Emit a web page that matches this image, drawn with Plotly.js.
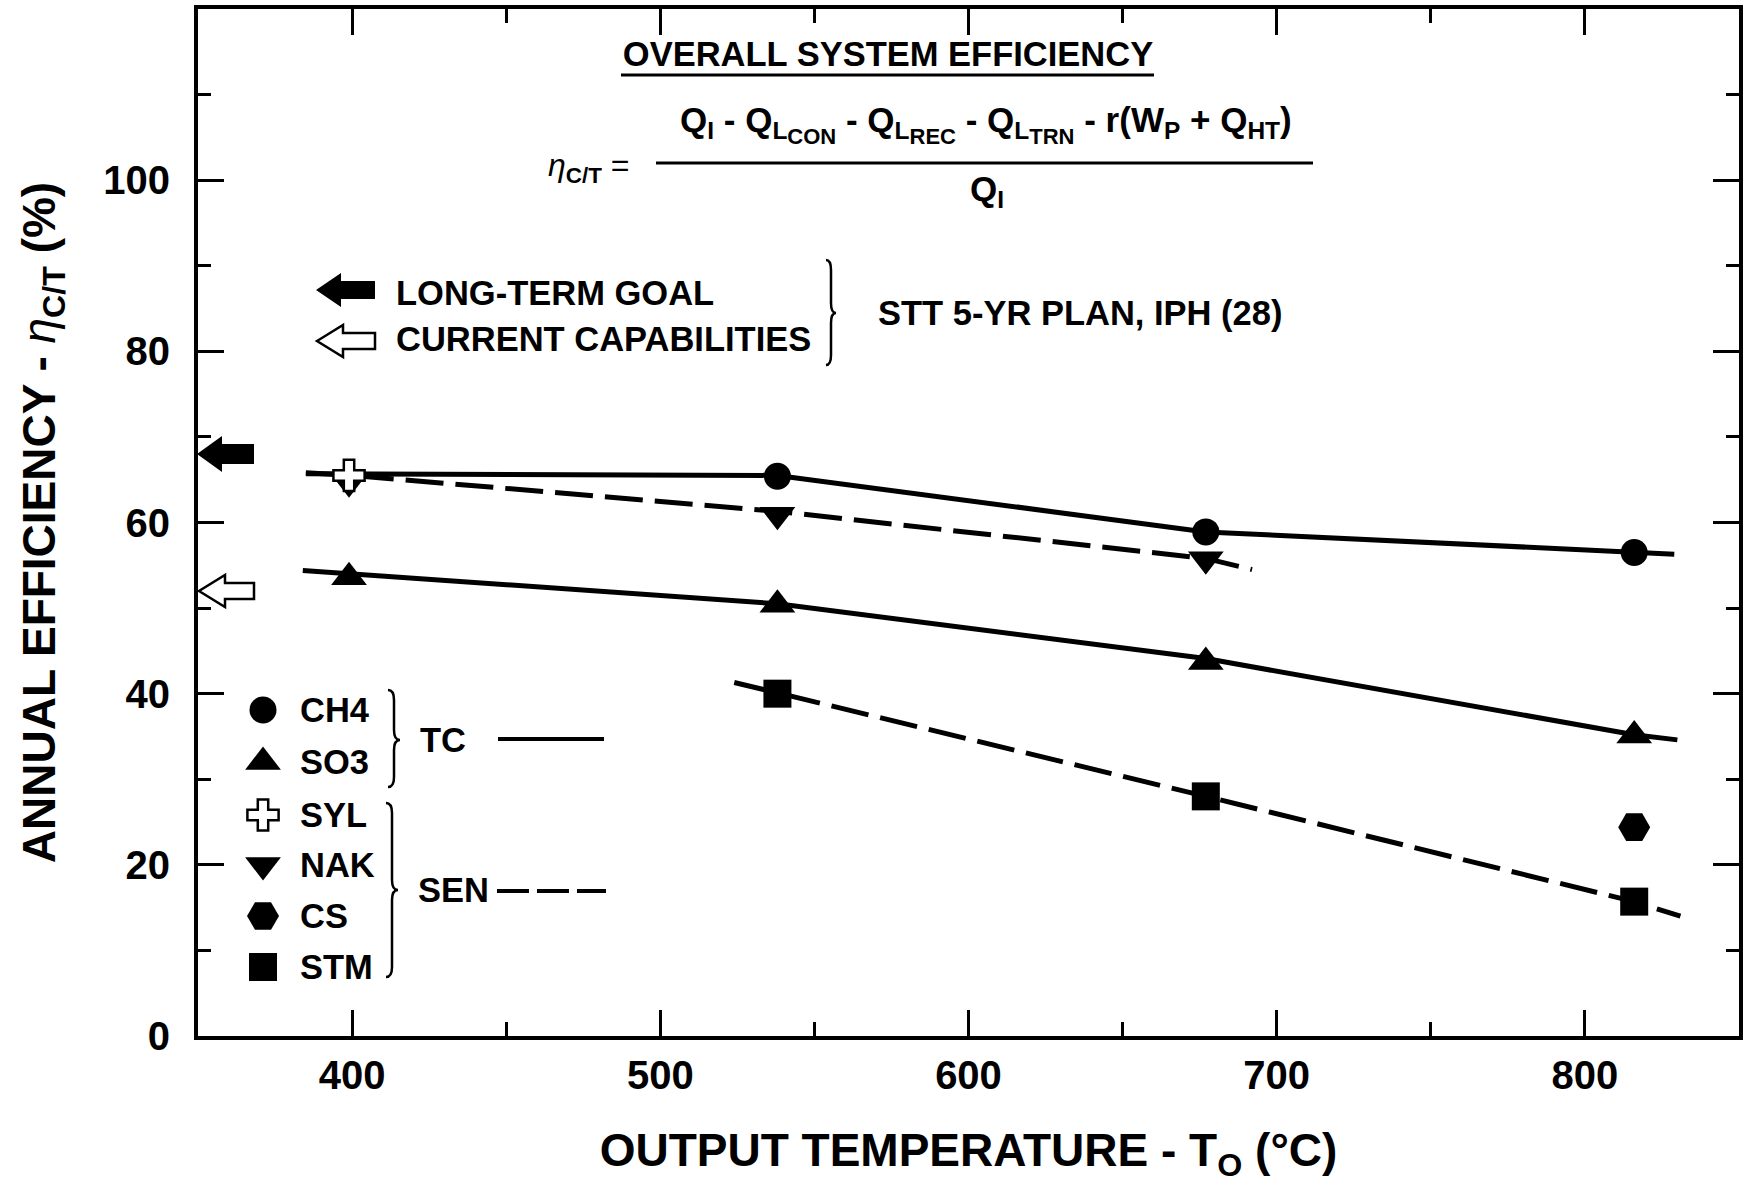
<!DOCTYPE html>
<html>
<head>
<meta charset="utf-8">
<script src="https://cdn.plot.ly/plotly-3.0.1.min.js"></script>
<style>html,body{margin:0;padding:0;background:#fff;}</style>
</head>
<body>
<div id="chart" style="width:1749px;height:1183px;"></div>
<script>
// ---------------- DATA ----------------
const seriesNames = ['CH4', 'SO3', 'SYL', 'NAK', 'CS', 'STM'];
const groupNames = ['TC', 'SEN'];

const ch4X = [538, 677, 816];
const ch4Y = [65.4, 58.9, 56.5];
const so3X = [399, 538, 677, 816];
const so3Y = [53.6, 50.4, 43.7, 35.1];
const sylX = [399];
const sylY = [65.5];
const nakX = [399, 538, 677];
const nakY = [64.7, 60.9, 55.7];
const csX = [816];
const csY = [24.4];
const stmX = [538, 677, 816];
const stmY = [40.0, 28.0, 15.7];

// trend lines as drawn in the figure
const tcUpperLineX = [385, 538, 677, 816, 829];
const tcUpperLineY = [65.7, 65.5, 58.9, 56.5, 56.3];
const tcLowerLineX = [384, 400, 538, 677, 816, 830];
const tcLowerLineY = [54.4, 54.0, 50.5, 44.1, 35.2, 34.6];
const senUpperLineX = [385, 400, 538, 677, 692];
const senUpperLineY = [65.8, 65.5, 61.3, 55.8, 54.5];
const senLowerLineX = [524, 538, 677, 816, 831];
const senLowerLineY = [41.3, 40.1, 28.0, 15.7, 14.0];

// STT 5-yr plan marks on the efficiency axis
const longTermGoal = 68;
const currentCapability = 52;

// ticks
const xTickVals = [400, 500, 600, 700, 800];
const xMinorVals = [450, 550, 650, 750];
const yTickVals = [0, 20, 40, 60, 80, 100];
const yMinorVals = [10, 30, 50, 70, 90, 110];

// ---------------- STYLE ----------------
const FONT = 'Liberation Sans, Arial, Helvetica, sans-serif';
const BLACK = '#000000';
const LW = 5;
const DASH = '38px,12px';
const TXT = 34.5;

const MARKERS = {
  CH4: {symbol: 'circle', size: 27, color: BLACK},
  SO3: {symbol: 'triangle-up', size: 31, color: BLACK},
  SYL: {symbol: 'cross', size: 26, color: '#ffffff', line: {color: BLACK, width: 2.5}},
  NAK: {symbol: 'triangle-down', size: 31, color: BLACK},
  CS:  {symbol: 'hexagon2', size: 32, color: BLACK},
  STM: {symbol: 'square', size: 28, color: BLACK}
};

function lineTrace(x, y, dash) {
  return {x: x, y: y, type: 'scatter', mode: 'lines', hoverinfo: 'skip', showlegend: false,
          line: {color: BLACK, width: LW, dash: dash || 'solid'}};
}
function markerTrace(name, x, y) {
  return {name: name, x: x, y: y, type: 'scatter', mode: 'markers', hoverinfo: 'skip',
          showlegend: false, marker: MARKERS[name]};
}

const traces = [
  lineTrace(tcUpperLineX, tcUpperLineY),
  lineTrace(tcLowerLineX, tcLowerLineY),
  lineTrace(senUpperLineX, senUpperLineY, DASH),
  lineTrace(senLowerLineX, senLowerLineY, DASH),
  markerTrace('CH4', ch4X, ch4Y),
  markerTrace('SO3', so3X, so3Y),
  markerTrace('NAK', nakX, nakY),
  markerTrace('STM', stmX, stmY),
  markerTrace('CS', csX, csY),
  markerTrace('SYL', sylX, sylY)
];

// ---------------- KEY (drawn in a pixel-space overlay axis) ----------------
const KEY_MARK_X = 263;
const KEY_TEXT_X = 298;
const KEY_ROW_Y = [710, 762, 815, 865, 916, 967];

seriesNames.forEach(function (n, i) {
  traces.push({x: [KEY_MARK_X], y: [KEY_ROW_Y[i]], xaxis: 'x2', yaxis: 'y2', type: 'scatter',
               mode: 'markers', hoverinfo: 'skip', showlegend: false, marker: MARKERS[n]});
});

function txt(text, x, y, opts) {
  opts = opts || {};
  return {text: text, x: x, y: y, xref: 'x2', yref: 'y2', showarrow: false,
          xanchor: opts.xanchor || 'left', yanchor: 'middle',
          font: {family: FONT, size: opts.size || TXT, color: BLACK, weight: 'bold'}};
}

const ETA = '<span style="font-weight:normal;font-style:italic">η</span>';

const annotations = [
  txt(ETA + '<sub>C/T</sub> <span style="font-weight:normal">=</span>', 631, 167, {xanchor: 'right', size: 32}),
  txt('Q<sub>I</sub> - Q<sub>L<sub><span style="font-size:22px">CON</span></sub></sub> - Q<sub>L<sub><span style="font-size:22px">REC</span></sub></sub> - Q<sub>L<sub><span style="font-size:22px">TRN</span></sub></sub> - r(W<sub>P</sub> + Q<sub>HT</sub>)', 986, 124, {xanchor: 'center', size: 35}),
  txt('Q<sub>I</sub>', 987, 191, {xanchor: 'center', size: 35}),
  txt('LONG-TERM GOAL', 394, 293),
  txt('CURRENT CAPABILITIES', 394, 339),
  txt('STT 5-YR PLAN, IPH (28)', 876, 313),
  txt(groupNames[0], 418, 740),
  txt(groupNames[1], 416, 890)
];
seriesNames.forEach(function (n, i) { annotations.push(txt(n, KEY_TEXT_X, KEY_ROW_Y[i])); });

function bracePath(x0, yTop, yBot, yMid, w) {
  const xm = x0 + w * 0.5, xt = x0 + w;
  const r = Math.min(10, (yBot - yTop) / 6);
  return 'M' + x0 + ',' + yTop + ' Q' + xm + ',' + yTop + ' ' + xm + ',' + (yTop + r) +
         ' L' + xm + ',' + (yMid - r) + ' Q' + xm + ',' + yMid + ' ' + xt + ',' + yMid +
         ' Q' + xm + ',' + yMid + ' ' + xm + ',' + (yMid + r) +
         ' L' + xm + ',' + (yBot - r) + ' Q' + xm + ',' + yBot + ' ' + x0 + ',' + yBot;
}
function arrowPath(tipX, y, headLen, headHalf, bodyEnd, bodyHalf) {
  const hb = tipX + headLen;
  return 'M' + tipX + ',' + y + ' L' + hb + ',' + (y - headHalf) + ' L' + hb + ',' + (y - bodyHalf) +
         ' L' + bodyEnd + ',' + (y - bodyHalf) + ' L' + bodyEnd + ',' + (y + bodyHalf) +
         ' L' + hb + ',' + (y + bodyHalf) + ' L' + hb + ',' + (y + headHalf) + ' Z';
}
function pxShape(path, fill, lineW) {
  return {type: 'path', xref: 'x2', yref: 'y2', path: path, fillcolor: fill,
          line: {color: BLACK, width: lineW}};
}

const shapes = [
  // title underline & fraction bar
  {type: 'line', xref: 'x2', yref: 'y2', x0: 621, x1: 1154, y0: 75, y1: 75, line: {color: BLACK, width: 3}},
  {type: 'line', xref: 'x2', yref: 'y2', x0: 656, x1: 1313, y0: 163, y1: 163, line: {color: BLACK, width: 3}},
  // braces
  pxShape(bracePath(826, 260, 365, 313, 10), 'rgba(0,0,0,0)', 2.5),
  pxShape(bracePath(388, 690, 787, 740, 12), 'rgba(0,0,0,0)', 2.5),
  pxShape(bracePath(386, 803, 977, 890, 12), 'rgba(0,0,0,0)', 2.5),
  // key line samples
  {type: 'line', xref: 'x2', yref: 'y2', x0: 498, x1: 604, y0: 739, y1: 739, line: {color: BLACK, width: 4}},
  {type: 'line', xref: 'x2', yref: 'y2', x0: 497, x1: 606, y0: 891, y1: 891, line: {color: BLACK, width: 4, dash: '32px,8px'}},
  // key arrows
  pxShape(arrowPath(316, 290, 25, 17, 375, 9), BLACK, 0),
  pxShape(arrowPath(317, 341, 26, 16, 375, 8), '#ffffff', 2.5),
  // arrows on the efficiency axis
  {type: 'path', xref: 'paper', yref: 'y', xsizemode: 'pixel', ysizemode: 'pixel', xanchor: 0,
   yanchor: longTermGoal, path: arrowPath(-1, 0, 25, 18, 56, 10), fillcolor: BLACK, line: {width: 0}},
  {type: 'path', xref: 'paper', yref: 'y', xsizemode: 'pixel', ysizemode: 'pixel', xanchor: 0,
   yanchor: currentCapability, path: arrowPath(1, 0, 26, 16, 56, 8), fillcolor: '#ffffff',
   line: {color: BLACK, width: 2.5}}
];

const tickFont = {family: FONT, size: 40, color: BLACK, weight: 'bold'};
const titleFont = {family: FONT, size: 46, color: BLACK, weight: 'bold'};

const layout = {
  width: 1749, height: 1183, autosize: false,
  margin: {l: 198, r: 10, t: 9, b: 147, pad: 0},
  paper_bgcolor: '#ffffff', plot_bgcolor: '#ffffff', showlegend: false,
  font: {family: FONT, color: BLACK, weight: 'bold'},
  title: {text: 'OVERALL SYSTEM EFFICIENCY', xref: 'container', yref: 'container',
          x: 888 / 1749, xanchor: 'center', y: 1 - 54 / 1183, yanchor: 'middle',
          font: {family: FONT, size: TXT, color: BLACK, weight: 'bold'}},
  xaxis: {
    range: [350, 850], tickmode: 'array', tickvals: xTickVals,
    ticks: 'inside', ticklen: 26, tickwidth: 3, tickcolor: BLACK,
    minor: {tickmode: 'array', tickvals: xMinorVals, ticks: 'inside', ticklen: 14, tickwidth: 3, tickcolor: BLACK, showgrid: false},
    showline: true, linewidth: 4, linecolor: BLACK, mirror: 'ticks',
    showgrid: false, zeroline: false, tickfont: tickFont, ticklabelstandoff: 1,
    title: {text: 'OUTPUT TEMPERATURE - T<sub>O</sub> (°C)', font: titleFont, standoff: 54},
    fixedrange: true
  },
  yaxis: {
    range: [0, 120], tickmode: 'array', tickvals: yTickVals,
    ticks: 'inside', ticklen: 26, tickwidth: 3, tickcolor: BLACK,
    minor: {tickmode: 'array', tickvals: yMinorVals, ticks: 'inside', ticklen: 13, tickwidth: 3, tickcolor: BLACK, showgrid: false},
    showline: true, linewidth: 4, linecolor: BLACK, mirror: 'ticks',
    showgrid: false, zeroline: false, tickfont: tickFont, ticklabelstandoff: 16,
    title: {text: 'ANNUAL EFFICIENCY - ' + ETA + '<sub>C/T</sub> (%)', font: titleFont, standoff: 34},
    fixedrange: true
  },
  xaxis2: {overlaying: 'x', range: [198, 1739], visible: false, fixedrange: true},
  yaxis2: {overlaying: 'y', range: [1036, 9], visible: false, fixedrange: true},
  shapes: shapes,
  annotations: annotations
};

Plotly.newPlot('chart', traces, layout, {staticPlot: true, displayModeBar: false});
</script>
</body>
</html>
